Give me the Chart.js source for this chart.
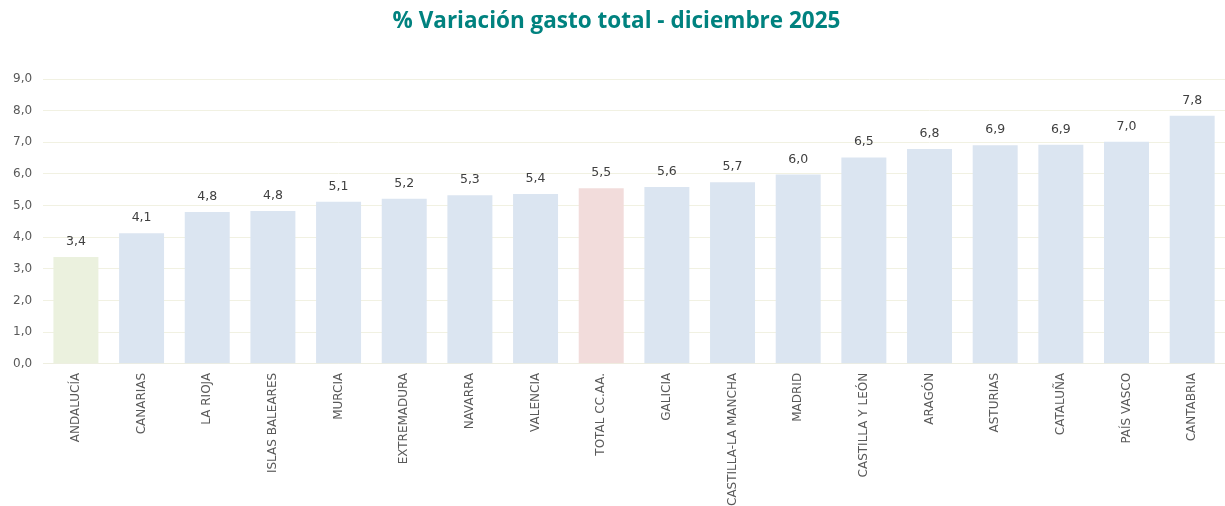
<!DOCTYPE html>
<html>
<head>
<meta charset="utf-8">
<script src="https://cdn.jsdelivr.net/npm/chart.js@4"></script>
<style>
  html, body { margin: 0; padding: 0; background: #fff; }
  #wrap { width: 1225px; height: 506px; position: relative; }
</style>
</head>
<body>
<div id="wrap"><canvas id="chart"></canvas></div>
<script>
const TITLE = '% Variación gasto total - diciembre 2025';

const regions = [
    'ANDALUCÍA', 'CANARIAS', 'LA RIOJA', 'ISLAS BALEARES', 'MURCIA', 'EXTREMADURA',
    'NAVARRA', 'VALENCIA', 'TOTAL CC.AA.', 'GALICIA', 'CASTILLA-LA MANCHA', 'MADRID',
    'CASTILLA Y LEÓN', 'ARAGÓN', 'ASTURIAS', 'CATALUÑA', 'PAÍS VASCO', 'CANTABRIA'
];
const variation = [
    3.38, 4.13, 4.80, 4.83, 5.12, 5.22,
    5.33, 5.37, 5.55, 5.59, 5.74, 5.98,
    6.52, 6.79, 6.91, 6.92, 7.02, 7.84
];

const BAR_COLOR   = '#dbe5f1';
const FIRST_COLOR = '#ebf1de';
const TOTAL_COLOR = '#f2dcdb';
const TEXT_FONT   = '"DejaVu Sans"';

const fmt = (v) => v.toFixed(1).replace('.', ',');

const barColors = regions.map((r, i) =>
    i === 0 ? FIRST_COLOR : r === 'TOTAL CC.AA.' ? TOTAL_COLOR : BAR_COLOR);

// value labels above each bar
const valueLabels = {
    id: 'valueLabels',
    afterDatasetsDraw(chart) {
        const ctx = chart.ctx;
        const meta = chart.getDatasetMeta(0);
        ctx.save();
        ctx.font = '12.5px ' + TEXT_FONT;
        ctx.fillStyle = '#404040';
        ctx.textAlign = 'center';
        ctx.textBaseline = 'bottom';
        meta.data.forEach((bar, i) => {
            ctx.fillText(fmt(variation[i]), bar.x, bar.y - 9);
        });
        ctx.restore();
    }
};

const ctx = document.getElementById('chart').getContext('2d');
new Chart(ctx, {
    type: 'bar',
    data: {
        labels: regions,
        datasets: [{
            data: variation,
            backgroundColor: barColors,
            borderWidth: 0,
            categoryPercentage: 1.0,
            barPercentage: 0.685,
        }]
    },
    options: {
        responsive: true,
        maintainAspectRatio: false,
        animation: false,
        layout: { padding: { left: 2, right: -6, top: 0, bottom: -9 } },
        plugins: {
            legend: { display: false },
            tooltip: { enabled: false },
            title: {
                display: true,
                text: TITLE,
                color: '#00827f',
                font: { family: 'Open Sans', size: 22.5, weight: 'bold' },
                padding: { top: 8, bottom: 44 }
            }
        },
        scales: {
            x: {
                grid: { display: false, drawTicks: false },
                border: { color: '#eeeee0' },
                ticks: {
                    color: '#595959',
                    font: { family: TEXT_FONT, size: 12 },
                    minRotation: 90,
                    maxRotation: 90,
                    autoSkip: false,
                    padding: 9
                }
            },
            y: {
                min: 0,
                max: 9,
                grid: { color: '#f1f1e2', drawTicks: false },
                border: { display: false },
                ticks: {
                    stepSize: 1,
                    color: '#595959',
                    font: { family: TEXT_FONT, size: 12 },
                    padding: 11,
                    callback: (v) => fmt(v)
                }
            }
        }
    },
    plugins: [valueLabels]
});
</script>
</body>
</html>
